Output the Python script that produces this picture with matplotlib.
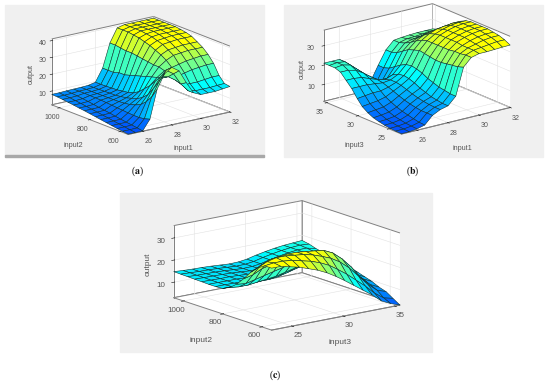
import numpy as np
import matplotlib
matplotlib.use('Agg')
import matplotlib.pyplot as plt
from matplotlib.colors import LinearSegmentedColormap, Normalize
from matplotlib.patches import Rectangle

input1 = [25, 25.5, 26, 26.5, 27, 27.5, 28, 28.5, 29, 29.5, 30, 30.5, 31, 31.5, 32]
input2 = [550, 586, 621, 657, 693, 729, 764, 800, 836, 871, 907, 943, 979, 1014, 1050]
input3_b = [23, 23.9, 24.8, 25.7, 26.6, 27.5, 28.4, 29.3, 30.1, 31, 31.9, 32.8, 33.7, 34.6, 35.5]
input3_c = input3_b

# one row per input1 value, running along input2
output_a = [
    [2, 2.4, 2.8, 3.3, 3.8, 4.3, 4.8, 5.3, 5.8, 6.2, 6.7, 7.1, 7.5, 7.8, 8],
    [2, 2.4, 2.8, 3.3, 3.8, 4.3, 4.8, 5.3, 5.8, 6.2, 6.7, 7.1, 7.5, 7.8, 8],
    [2, 2.5, 3, 3.4, 3.9, 4.4, 5, 5.4, 5.9, 6.4, 6.9, 7.3, 7.7, 8, 8.2],
    [8, 7, 6.5, 6.5, 6.7, 7, 7.2, 7.5, 7.8, 8, 8.1, 8.2, 8.3, 8.3, 8.3],
    [25, 19, 15, 12, 10.5, 9.5, 9, 8.7, 8.6, 8.5, 8.5, 8.4, 8.4, 8.4, 8.4],
    [33, 27, 22, 17, 14, 12, 11, 10, 9.5, 9, 9, 8.8, 8.7, 8.6, 8.6],
    [36, 33, 28, 24, 20, 17, 14, 12, 11, 10.5, 10, 9.8, 9.6, 9.5, 9.5],
    [33, 30, 27, 25, 24, 23, 22, 21, 20, 19, 18, 18, 17, 17, 17],
    [25, 23, 24, 25, 27, 28, 28, 28.5, 29, 29.5, 30, 30, 30.5, 31, 31],
    [18, 18, 20, 24, 28, 31, 33, 34.5, 36, 37, 38, 38.5, 39, 39, 39],
    [16, 17, 20, 25, 29, 33, 35, 37, 38, 39, 39.5, 40, 40, 40, 40],
    [16, 17, 20, 26, 30, 33.5, 35.5, 37.5, 38.5, 39.5, 40, 40, 40, 40, 40],
    [16, 17, 20.5, 26.5, 30.5, 34, 36, 38, 39, 39.5, 40, 40, 40, 40, 40],
    [16.5, 17.3, 21, 27, 31, 34, 36, 38, 39, 39.5, 40, 40, 40, 40, 40],
    [17, 17.5, 21, 27, 31, 34, 36, 38, 39, 39.5, 40, 40, 40, 40, 40],
]

# one row per input1 value, running along input3
output_b = [
    [1.5, 1.6, 1.8, 2.2, 2.8, 3.6, 5, 7, 10, 14, 17, 20, 21, 21, 21],
    [1.5, 1.7, 2, 2.4, 3, 4, 5.5, 7.5, 10.5, 14, 17, 20, 21.5, 21.5, 21],
    [2, 2.2, 2.5, 3, 3.6, 4.6, 6, 8, 11, 14, 16.5, 19, 20.5, 21, 21],
    [3, 3.2, 3.8, 4.5, 5.2, 6.2, 7.5, 9, 11, 13.5, 15, 16.5, 17, 17.5, 17.5],
    [7, 7, 7, 7.4, 8, 8.8, 9.8, 11, 12, 13, 13.5, 13.5, 13.5, 13, 12.5],
    [9, 9, 9.2, 9.6, 10.2, 11, 12, 13, 13.5, 13.5, 12.5, 11, 9.5, 8, 7],
    [10, 10, 10.5, 11, 12, 13, 14.5, 15.5, 16, 15.5, 14, 11, 8, 6, 5.5],
    [14, 14, 14.5, 15, 16, 17, 18.5, 19.5, 20, 19.5, 18, 16, 14, 13, 13],
    [28, 27, 26.5, 26, 25.5, 25.5, 26, 26.5, 27, 26, 25, 23, 21, 20, 20],
    [32, 32, 31.5, 31.5, 31, 31, 31, 31, 31, 30, 28.5, 26.5, 25, 24, 24],
    [33, 33.5, 33.5, 33.5, 34, 34, 34, 34, 33.5, 32.5, 30.5, 28, 26, 25, 24.5],
    [33, 34, 34.5, 35, 35.5, 35.5, 35.5, 35.5, 35, 34, 31.5, 29, 26.5, 25.2, 24.8],
    [33.2, 34.5, 35.5, 36, 36.5, 36.5, 36.5, 36.5, 36, 34.5, 32, 29.5, 27, 25.5, 25],
    [33.4, 35, 36, 36.5, 37, 37, 37, 37, 36.5, 35, 32.5, 30, 27.5, 26, 25],
    [33.5, 35, 36, 36.5, 37, 37, 37, 37, 36.5, 35, 32.5, 30, 27.5, 26, 25],
]

# one row per input3 value, running along input2
output_c = [
    [31, 31, 29, 26, 22, 18.5, 16, 14.5, 14.3, 14.3, 14.4, 14.5, 14.6, 14.7, 14.8],
    [31, 31.5, 31, 28, 23, 18, 15.5, 14.5, 14.3, 14.3, 14.3, 14.4, 14.4, 14.5, 14.5],
    [30, 31.5, 32, 30, 25, 19, 15.5, 14.5, 14.2, 14.2, 14.2, 14.3, 14.3, 14.3, 14.3],
    [29, 31, 32, 30.5, 26, 20, 16, 14.5, 14.2, 14.2, 14.2, 14.2, 14.2, 14.2, 14.2],
    [27.5, 30, 31.5, 31, 27, 21, 16.5, 14.5, 14, 14, 14, 14, 14, 14, 14],
    [26, 29, 31, 31, 27.5, 22, 17, 14.5, 14, 13.8, 13.7, 13.7, 13.7, 13.7, 13.7],
    [24, 27.5, 30, 30.5, 27.5, 23, 18, 15, 14, 13.6, 13.4, 13.4, 13.4, 13.4, 13.4],
    [21.5, 25.5, 28.5, 30, 28, 23.5, 19, 16, 14.5, 14, 13.6, 13.5, 13.5, 13.5, 13.5],
    [19, 23, 27, 29.5, 28, 24.5, 20, 17, 15.5, 14.5, 14.2, 14, 14, 14, 14],
    [16, 20, 24.5, 27.5, 27, 24, 20.5, 18, 16.5, 15.5, 15, 15, 15, 15, 15],
    [13, 16.5, 21, 24, 24.5, 22.5, 20, 18.5, 17.5, 16.5, 16, 15.8, 15.8, 15.8, 15.8],
    [10, 13, 16.5, 19.5, 20.5, 20, 18.5, 18, 17.5, 17, 16.5, 16.5, 16.5, 16.5, 16.5],
    [6.5, 9, 12, 14, 15, 15.5, 16, 16, 16, 16, 16.5, 16.8, 17, 17, 17],
    [4.5, 6, 8.5, 10, 11.5, 12.5, 13.5, 14, 14.5, 15, 15.5, 16.5, 17, 17.3, 17.3],
    [3, 5, 7, 8, 9.5, 10.5, 11.5, 12.5, 13, 14, 14.5, 15.3, 16, 17, 17.6],
]

W, H = 550, 384
surf_cmap = LinearSegmentedColormap.from_list(
    'surf', [(0, '#0050ff'), (0.22, '#00a0ff'), (0.44, '#00ffff'), (0.72, '#80ff80'), (0.92, '#ffff00'), (1, '#ffff00')])

plt.rcParams['font.family'] = ['Liberation Sans', 'DejaVu Sans']
fig = plt.figure(figsize=(W / 100, H / 100), dpi=100)


def panel(x0, y0, x1, y1):
    fig.add_artist(Rectangle((x0 / W, 1 - y1 / H), (x1 - x0) / W, (y1 - y0) / H,
                             transform=fig.transFigure, color='#f0f0f0', zorder=-5))


def surface(xs, ys, zs, cx, cy, side, az, el, aspect, xlim, ylim, zlim, xticks, yticks, zticks, fs, zpad=-3):
    ax = fig.add_axes([(cx - side / 2) / W, 1 - (cy + side / 2) / H, side / W, side / H],
                      projection='3d')
    ax.patch.set_alpha(0)
    ax.set_proj_type('ortho')
    ax.view_init(elev=el, azim=az)
    ax.set_box_aspect(aspect)
    X, Y = np.meshgrid(xs, ys, indexing='ij')
    Z = np.array(zs)
    corners = (Z[:-1, :-1] + Z[1:, :-1] + Z[:-1, 1:] + Z[1:, 1:]) / 4
    colors = surf_cmap(Normalize(Z.min(), Z.max())(corners))
    ax.plot_surface(X, Y, Z, rstride=1, cstride=1, facecolors=colors, shade=False,
                    edgecolor='#10302f', linewidth=0.4, antialiased=True)
    ax.set_xlim(*xlim)
    ax.set_ylim(*ylim)
    ax.set_zlim(*zlim)
    ax.set_xticks(xticks)
    ax.set_yticks(yticks)
    ax.set_zticks(zticks)
    for axis in (ax.xaxis, ax.yaxis, ax.zaxis):
        axis.set_pane_color((1, 1, 1, 1))
        axis.pane.set_edgecolor('#808080')
        axis.pane.set_linewidth(0.7)
        axis.line.set_color('#808080')
        axis.line.set_linewidth(0.7)
        axis._axinfo['grid']['color'] = '#e2e2e2'
        axis._axinfo['grid']['linewidth'] = 0.4
        axis._axinfo['tick']['color'] = '#808080'
        axis._axinfo['tick']['linewidth'] = {True: 0.4, False: 0.3}
    ax.tick_params(labelsize=fs, labelcolor='#555555', pad=-3)
    ax.zaxis.set_tick_params(pad=zpad)
    return ax


surface(input1, input2, output_a, 138.3, 78, 187, -127, 17, (385, 383, 208),
        (25, 32), (550, 1050), (1.8, 41), [26, 28, 30, 32], [600, 800, 1000],
        [10, 20, 30, 40], 5, zpad=-4.5)
surface(input1, input3_b, output_b, 414.3, 71.5, 196, -127.3, 18.7, (415, 389, 228),
        (25, 32), (23, 35.5), (1.3, 38), [26, 28, 30, 32], [25, 30, 35],
        [10, 20, 30], 5)
surface(input3_c, input2, output_c, 283.7, 268.5, 233, -127.5, 14.7, (484, 481, 223),
        (23, 35.5), (550, 1050), (3, 35.6), [25, 30, 35], [600, 800, 1000],
        [10, 20, 30], 5.8)

panel(5, 5, 264, 155)
fig.add_artist(Rectangle((5 / W, 1 - 157 / H), 259 / W, 2 / H, transform=fig.transFigure,
                         color='#a8a8a8', zorder=-4))
panel(284, 5, 543, 157)
panel(120, 193, 432, 352)

label_kw = dict(color='#555555', ha='center', va='center')
fig.text(73 / W, 1 - 146 / H, 'input2', fontsize=5.2, **label_kw)
fig.text(183 / W, 1 - 148 / H, 'input1', fontsize=5.2, **label_kw)
fig.text(31 / W, 1 - 74 / H, 'output', fontsize=5.2, rotation=90, **label_kw)
fig.text(354 / W, 1 - 146 / H, 'input3', fontsize=5.2, **label_kw)
fig.text(462 / W, 1 - 148 / H, 'input1', fontsize=5.2, **label_kw)
fig.text(302 / W, 1 - 69 / H, 'output', fontsize=5.2, rotation=90, **label_kw)
fig.text(201 / W, 1 - 341 / H, 'input2', fontsize=6, **label_kw)
fig.text(340 / W, 1 - 343 / H, 'input3', fontsize=6, **label_kw)
fig.text(148 / W, 1 - 264 / H, 'output', fontsize=6, rotation=90, **label_kw)

for x, y, letter in [(137, 171, 'a'), (413, 171, 'b'), (275, 375, 'c')]:
    fig.text(x / W, 1 - y / H, r'($\mathbf{' + letter + r'}$)', fontsize=7, ha='center', va='center',
             family='Liberation Serif', math_fontfamily='stix', color='#111111')

plt.savefig('out.png', dpi=100)
plt.close()
